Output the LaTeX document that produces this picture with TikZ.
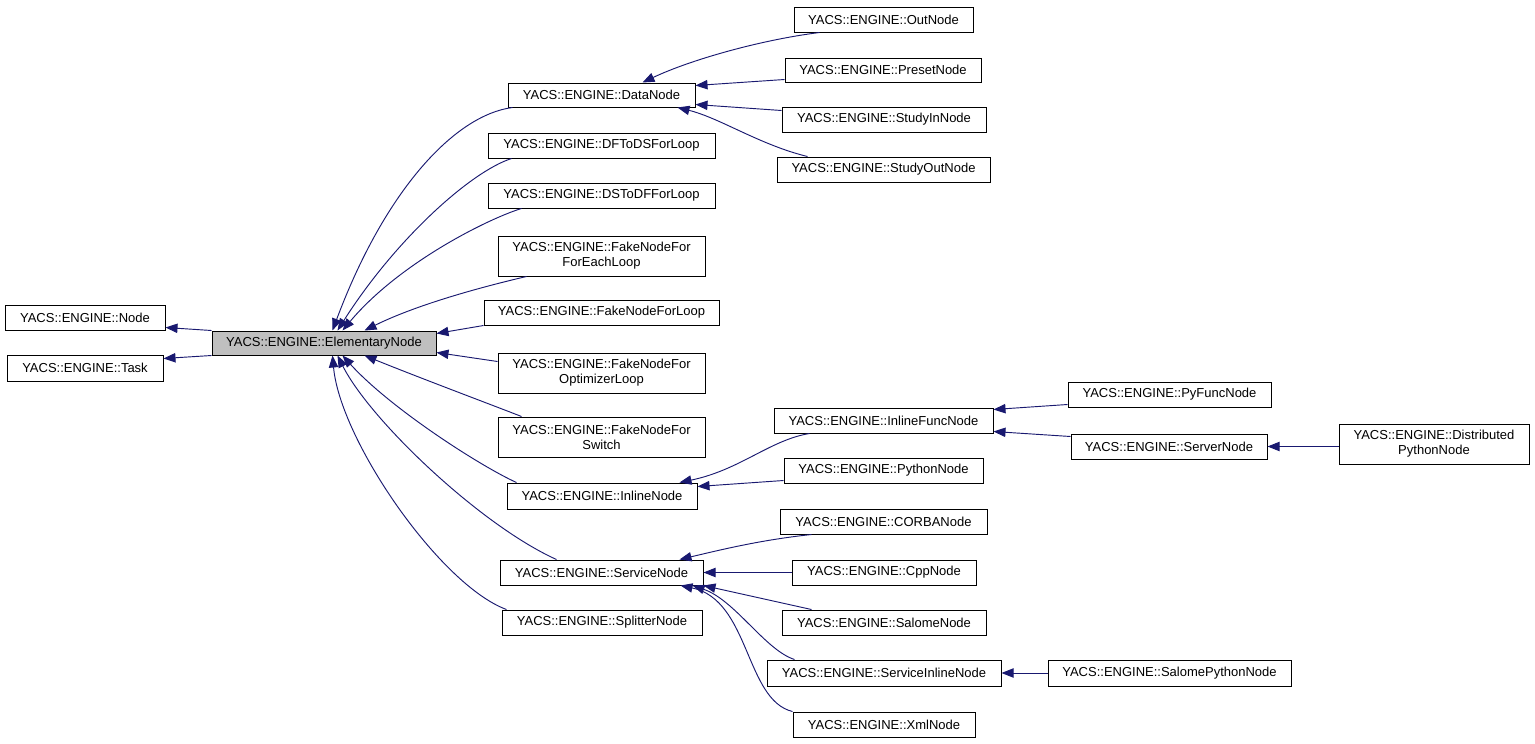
\documentclass[tikz,border=0pt]{standalone}
\usepackage{fontspec}
\setmainfont{Liberation Sans}
\usetikzlibrary{arrows.meta,calc}
\definecolor{edgeblue}{HTML}{191970}
\definecolor{elemgray}{HTML}{BFBFBF}
\tikzset{
  cls/.style={draw=black, line width=0.75pt, inner sep=0pt, align=center,
    font=\fontsize{9.75}{11.25}\selectfont},
  edge/.style={draw=edgeblue, line width=0.7pt,
    -{Triangle[length=9pt,width=7pt]}, color=edgeblue}
}
\newcommand{\bx}[7][]{\node[cls,#1, minimum width={(#4-#2)*0.75pt}, minimum height={(#5-#3)*0.75pt}] (#6) at ({(#2+#4)/2},{(#3+#5)/2}) {#7};}
\begin{document}
\begin{tikzpicture}[x=0.75pt,y=-0.75pt]
\useasboundingbox[fill=white] (0,0) rectangle (1535,743);
% boxes
\bx{5}{305}{165}{330}{node}{YACS::ENGINE::Node}
\bx{7}{355}{163}{381}{task}{YACS::ENGINE::Task}
\bx[fill=elemgray]{212}{331}{436}{355}{elem}{YACS::ENGINE::ElementaryNode}
\bx{508}{83}{695}{107}{data}{YACS::ENGINE::DataNode}
\bx{488}{133}{715}{158}{dftods}{YACS::ENGINE::DFToDSForLoop}
\bx{488}{183}{715}{208}{dstodf}{YACS::ENGINE::DSToDFForLoop}
\bx{498}{236}{705}{276}{fefor}{YACS::ENGINE::FakeNodeFor\\ForEachLoop}
\bx{484}{300}{719}{325}{fakeloop}{YACS::ENGINE::FakeNodeForLoop}
\bx{498}{353}{705}{393}{feopt}{YACS::ENGINE::FakeNodeFor\\OptimizerLoop}
\bx{498}{417}{705}{457}{feswitch}{YACS::ENGINE::FakeNodeFor\\Switch}
\bx{507}{483}{697}{509}{inline}{YACS::ENGINE::InlineNode}
\bx{500}{560}{703}{585}{service}{YACS::ENGINE::ServiceNode}
\bx{502}{610}{702}{635}{splitter}{YACS::ENGINE::SplitterNode}
\bx{794}{7}{973}{32}{out}{YACS::ENGINE::OutNode}
\bx{785}{58}{981}{82}{preset}{YACS::ENGINE::PresetNode}
\bx{782}{107}{986}{132}{studyin}{YACS::ENGINE::StudyInNode}
\bx{777}{157}{990}{182}{studyout}{YACS::ENGINE::StudyOutNode}
\bx{774}{408}{993}{433}{inlinefunc}{YACS::ENGINE::InlineFuncNode}
\bx{784}{458}{983}{483}{python}{YACS::ENGINE::PythonNode}
\bx{780}{509}{987}{534}{corba}{YACS::ENGINE::CORBANode}
\bx{792}{560}{976}{585}{cpp}{YACS::ENGINE::CppNode}
\bx{782}{610}{986}{635}{salome}{YACS::ENGINE::SalomeNode}
\bx{767}{660}{1001}{686}{svcinline}{YACS::ENGINE::ServiceInlineNode}
\bx{793}{712}{975}{737}{xml}{YACS::ENGINE::XmlNode}
\bx{1068}{382}{1271}{407}{pyfunc}{YACS::ENGINE::PyFuncNode}
\bx{1071}{434}{1267}{459}{server}{YACS::ENGINE::ServerNode}
\bx{1339}{424}{1529}{464}{distrib}{YACS::ENGINE::Distributed\\PythonNode}
\bx{1048}{660}{1291}{686}{salpy}{YACS::ENGINE::SalomePythonNode}
% edges to base classes
\draw[edge] (elem.north west) -- ($(node.south east)+(0,-3)$);
\draw[edge] (elem.south west) -- ($(task.north east)+(0,4)$);
% children of ElementaryNode
\draw[edge] ($(data.south west)+(5,0)$) .. controls (455,115) and (385,190) .. ($(elem.north west)+(121,0)$);
\draw[edge] ($(dftods.south west)+(24,0)$) .. controls (470,172) and (395,240) .. ($(elem.north west)+(126,0)$);
\draw[edge] ($(dstodf.south west)+(34,0)$) .. controls (490,218) and (400,262) .. ($(elem.north west)+(131,0)$);
\draw[edge] ($(fefor.south west)+(29,0)$) .. controls (490,285) and (420,303) .. ($(elem.north west)+(153,0)$);
\draw[edge] (fakeloop.south west) -- ($(elem.north east)+(0,3)$);
\draw[edge] ($(feopt.north west)+(0,9)$) -- ($(elem.south east)+(0,-3)$);
\draw[edge] ($(feswitch.north west)+(24,0)$) .. controls (500,408) and (420,378) .. ($(elem.south west)+(153,0)$);
\draw[edge] ($(inline.north west)+(10,0)$) .. controls (480,466) and (390,408) .. ($(elem.south west)+(131,0)$);
\draw[edge] ($(service.north west)+(57,0)$) .. controls (480,525) and (370,420) .. ($(elem.south west)+(126,0)$);
\draw[edge] ($(splitter.north west)+(5,0)$) .. controls (440,585) and (340,440) .. ($(elem.south west)+(121,0)$);
% children of DataNode
\draw[edge] ($(out.south west)+(26,0)$) .. controls (760,40) and (690,60) .. ($(data.north west)+(135,0)$);
\draw[edge] ($(preset.south west)+(0,-3)$) -- ($(data.north east)+(0,3)$);
\draw[edge] ($(studyin.north west)+(0,4)$) -- ($(data.south east)+(0,-3)$);
\draw[edge] ($(studyout.north west)+(31,0)$) .. controls (760,145) and (720,118) .. ($(data.south west)+(170,0)$);
% children of InlineNode
\draw[edge] ($(inlinefunc.south west)+(36,0)$) .. controls (770,440) and (740,470) .. ($(inline.north west)+(173,0)$);
\draw[edge] ($(python.south west)+(0,-3)$) -- ($(inline.north east)+(0,4)$);
% children of ServiceNode
\draw[edge] ($(corba.south west)+(32,0)$) .. controls (760,540) and (720,550) .. ($(service.north west)+(180,0)$);
\draw[edge] (cpp.west) -- (service.east);
\draw[edge] ($(salome.north west)+(30,0)$) -- (service.south east);
\draw[edge] ($(svcinline.north west)+(28,0)$) .. controls (765,650) and (735,600) .. ($(service.south east)+(-11,0)$);
\draw[edge] (xml.north west) .. controls (745,700) and (750,600) .. ($(service.south east)+(-23,0)$);
% children of InlineFuncNode
\draw[edge] ($(pyfunc.south west)+(0,-3)$) -- ($(inlinefunc.north east)+(0,2)$);
\draw[edge] ($(server.north west)+(0,3)$) -- ($(inlinefunc.south east)+(0,-2)$);
% further
\draw[edge] (server.east -| distrib.west) -- (server.east);
\draw[edge] (salpy.west) -- (svcinline.east);
\end{tikzpicture}
\end{document}
